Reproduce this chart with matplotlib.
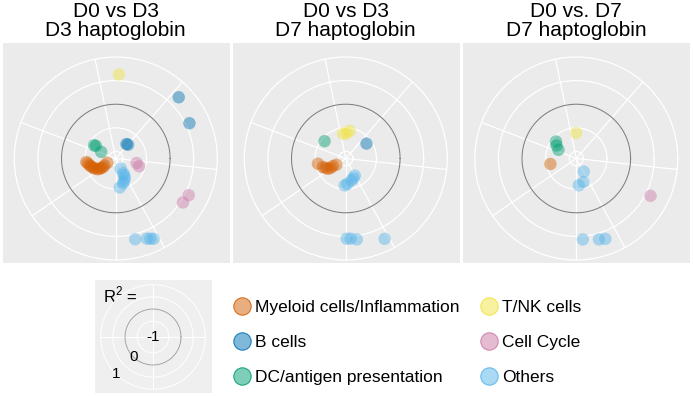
## polar R^2 plots of module correlations, three comparisons

## import libraries
import numpy as np
import matplotlib
matplotlib.use('Agg')
import matplotlib.pyplot as plt
from matplotlib.lines import Line2D

plt.rcParams['font.family'] = ['Liberation Sans', 'DejaVu Sans']
plt.rcParams['mathtext.fontset'] = 'custom'
plt.rcParams['mathtext.rm'] = 'Liberation Sans'

## groups and colours
groups = ['Myeloid cells/Inflammation', 'B cells', 'DC/antigen presentation',
          'T/NK cells', 'Cell Cycle', 'Others']
colors = ['#D55E00', '#0072B2', '#009E73', '#F0E442', '#CC79A7', '#56B4E9']

titles = ['D0 vs D3\nD3 haptoglobin', 'D0 vs D3\nD7 haptoglobin', 'D0 vs. D7\nD7 haptoglobin']

## module spoke angles (deg)
spokes = [101.8, 49.0, 353.8, 298.6, 270.0, 214.4, 159.2]

## panel 1: group index, angle (deg), R^2 value
p1_group = [0, 0, 0, 0, 0, 0, 0, 0, 0, 0, 0, 0,
            1, 1, 1, 1,
            2, 2, 2,
            3,
            4, 4, 4, 4,
            5, 5, 5, 5, 5, 5, 5, 5, 5, 5, 5]
p1_theta = [186.8, 194.7, 202.7, 210.4, 213.4, 211.7, 206.6, 198.0, 212.0, 205.0, 190.0, 214.0,
            53.8, 48.3, 44.2, 25.6,
            148.7, 147.6, 155.7,
            87.9,
            347.7, 341.5, 333.3, 326.8,
            296.0, 296.7, 294.8, 286.6, 277.9, 296.5, 290.0, 283.5, 291.2, 293.3, 295.2]
p1_r = [-0.52, -0.58, -0.63, -0.70, -0.78, -0.87, -0.95, -0.60, -0.74, -0.66, -0.55, -0.82,
        -0.77, -0.76, 0.71, 0.58,
        -0.61, -0.65, -0.81,
        0.63,
        -0.70, -0.63, 0.58, 0.55,
        -0.91, -0.80, -0.69, -0.60, -0.53, -0.75, -0.64, 0.61, 0.67, 0.70, 0.73]

## panel 2
p2_group = [0, 0, 0, 0, 0, 0, 0,
            1,
            2,
            3, 3, 3,
            5, 5, 5, 5, 5, 5, 5, 5, 5]
p2_theta = [190.6, 200.4, 209.8, 210.4, 213.1, 205.0, 212.0,
            35.8,
            140.8,
            96.4, 81.8, 88.8,
            297.9, 284.2, 273.4, 267.6, 291.0, 270.6, 273.5, 277.7, 295.8]
p2_r = [-0.55, -0.63, -0.71, -0.83, -0.91, -0.68, -0.77,
        -0.61,
        -0.57,
        -0.62, -0.56, -0.62,
        -0.74, -0.67, -0.61, -0.58, -0.70, 0.55, 0.55, 0.58, 0.74]

## panel 3
p3_group = [0,
            2, 2, 2,
            3,
            4,
            5, 5, 5, 5, 5, 5]
p3_theta = [192.0,
            140.1, 146.7, 154.1,
            90.2,
            333.3,
            299.6, 287.2, 275.4, 274.6, 285.6, 289.9]
p3_r = [-0.59,
        -0.59, -0.65, -0.73,
        -0.61,
        0.61,
        -0.83, -0.63, -0.58, 0.57, 0.63, 0.66]

panels = [(p1_group, p1_theta, p1_r), (p2_group, p2_theta, p2_r), (p3_group, p3_theta, p3_r)]

## R^2 rings and key labels
rings = [-1, -0.5, 0, 0.5]
key_labels = ['-1', '0', '1']
key_r = [-1.15, 0, 1]

W, H = 693.0, 396.0
fig = plt.figure(figsize=(W / 100, H / 100), dpi=100)

def frac(x0, y0, w, h):
    ## pixel box (top-left origin) -> figure fraction
    return [x0 / W, 1 - (y0 + h) / H, w / W, h / H]

rmin, rmax = -1.15, 1.0
lefts = [2.5, 232.5, 463.0]
pw, ptop, ph = 227.0, 43.0, 220.0
R = 101.5
cy = 158.5

for i in range(3):
    ## grey rectangular background
    bg = fig.add_axes(frac(lefts[i], ptop, pw, ph))
    bg.set_facecolor('#EBEBEB')
    bg.set_xticks([])
    bg.set_yticks([])
    for s in bg.spines.values():
        s.set_visible(False)

    cx = lefts[i] + 113.3
    ax = fig.add_axes(frac(cx - R, cy - R, 2 * R, 2 * R), projection='polar')
    ax.patch.set_alpha(0)
    ax.set_ylim(rmin, rmax)
    ax.set_xticks(np.deg2rad(spokes))
    ax.set_xticklabels([])
    ax.set_yticks(rings)
    ax.set_yticklabels([])
    ax.grid(True, color='white', lw=0.9)
    ax.spines['polar'].set_color('white')
    ax.spines['polar'].set_linewidth(0.9)
    ax.tick_params(length=0)

    ## R^2 = 0 reference circle
    t = np.linspace(0, 2 * np.pi, 300)
    ax.plot(t, np.zeros_like(t), color='#808080', lw=0.8, zorder=2)

    g, th, rr = panels[i]
    g = np.array(g)
    th = np.deg2rad(np.array(th))
    rr = np.array(rr)
    for k in range(len(groups)):
        m = g == k
        if m.any():
            ax.scatter(th[m], rr[m], s=80, color=colors[k], alpha=0.45,
                       edgecolors='none', zorder=3)

    fig.text(cx / W, 1 - 40.0 / H, titles[i], ha='center', va='bottom',
             fontsize=15, linespacing=0.98)

############# R^2 key #############
kb = fig.add_axes(frac(95, 280, 117, 113))
kb.set_facecolor('#EFEFEF')
kb.set_xticks([])
kb.set_yticks([])
for s in kb.spines.values():
    s.set_visible(False)
kb.text(0.07, 0.87, r'R$^2$ =', transform=kb.transAxes, fontsize=12, va='center', ha='left')

kR = 52.3
kx, ky = 153.0, 337.0
kax = fig.add_axes(frac(kx - kR, ky - kR, 2 * kR, 2 * kR), projection='polar')
kax.patch.set_alpha(0)
kax.set_ylim(rmin, rmax)
kax.set_xticks(np.deg2rad([0, 90, 180, 270]))
kax.set_xticklabels([])
kax.set_yticks(rings)
kax.set_yticklabels([])
kax.grid(True, color='white', lw=0.7)
kax.spines['polar'].set_color('white')
kax.spines['polar'].set_linewidth(0.7)
kax.tick_params(length=0)
t = np.linspace(0, 2 * np.pi, 300)
kax.plot(t, np.zeros_like(t), color='#A0A0A0', lw=0.7, zorder=2)
for lab, r0 in zip(key_labels, key_r):
    kax.text(np.deg2rad(225), r0, lab, fontsize=11, ha='center', va='center')

############# legend #############
handles = [Line2D([], [], ls='none', marker='o', markersize=12.5,
                  markerfacecolor=matplotlib.colors.to_rgba(c, 0.5),
                  markeredgecolor=matplotlib.colors.to_rgba(c, 0.85),
                  markeredgewidth=0.8) for c in colors]
fig.legend(handles, groups, ncol=2, loc='upper left',
           bbox_to_anchor=(233.7 / W, 1 - 300.0 / H), frameon=False,
           fontsize=12.5, handlelength=1.0, handletextpad=0.25,
           columnspacing=1.17, labelspacing=1.15, borderpad=0, borderaxespad=0)

fig.savefig('out.png', dpi=100)
